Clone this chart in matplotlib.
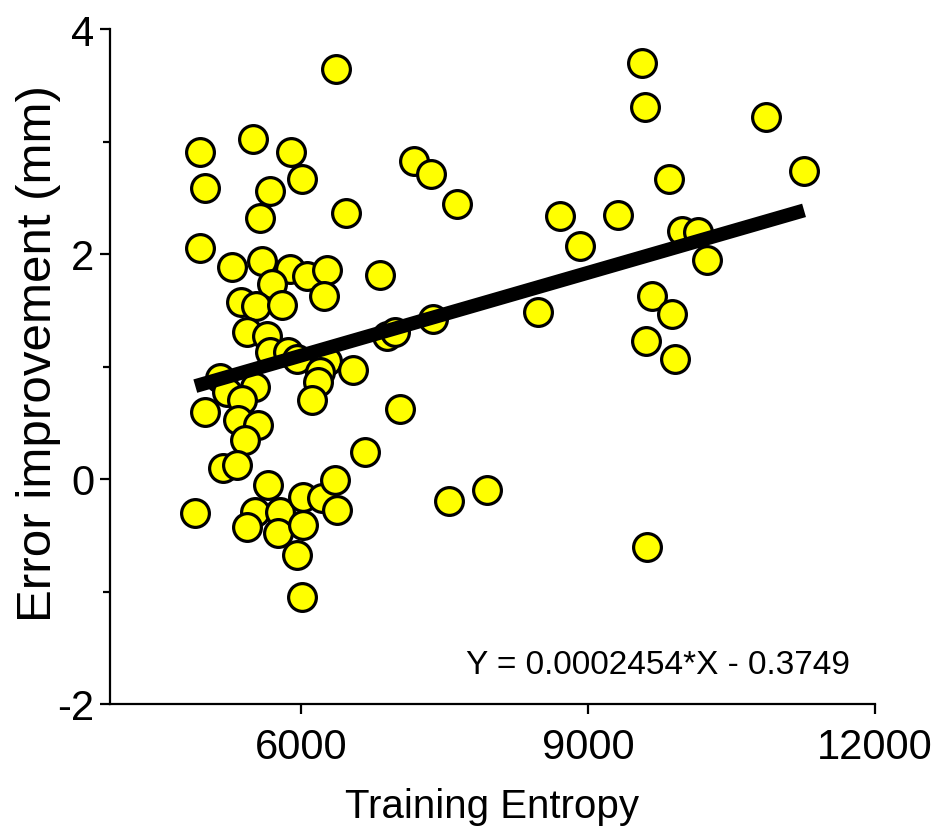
import numpy as np
import matplotlib
matplotlib.use("Agg")
import matplotlib.pyplot as plt

plt.rcParams['font.family'] = ['Liberation Sans', 'DejaVu Sans']
plt.rcParams['axes.unicode_minus'] = False

# training entropy vs error improvement
entropy = [4944, 5498, 5896, 4996, 5676, 6010, 5571, 6470, 6366, 7181,
           7359, 7631, 8707, 9314, 8916, 9564, 9596, 10861, 11258, 9847,
           9983, 10150, 10244, 4944, 5279, 5592, 5885, 6063, 6272, 6826,
           5697, 5373, 5530, 5801, 6240, 5436, 5645, 5676, 5864, 5958,
           6272, 6199, 6178, 6115, 6544, 6899, 6983, 7380, 8477, 9669,
           9606, 9878, 9909, 5153, 5226, 5519, 5383, 4996, 5341, 5550,
           5415, 5185, 5331, 5655, 6669, 7035, 4892, 5519, 5436, 5780,
           5760, 6021, 6220, 6356, 6376, 6021, 5958, 6010, 7547, 7944,
           9617]
improvement = [2.906, 3.021, 2.906, 2.585, 2.558, 2.665, 2.318, 2.362, 3.645, 2.823,
               2.710, 2.443, 2.336, 2.345, 2.069, 3.698, 3.306, 3.217, 2.736, 2.665,
               2.202, 2.193, 1.944, 2.052, 1.883, 1.936, 1.865, 1.802, 1.855, 1.810,
               1.730, 1.570, 1.534, 1.543, 1.623, 1.303, 1.268, 1.125, 1.125, 1.063,
               1.045, 0.947, 0.866, 0.706, 0.973, 1.268, 1.303, 1.419, 1.482, 1.624,
               1.223, 1.463, 1.071, 0.902, 0.777, 0.822, 0.706, 0.600, 0.528, 0.484,
               0.350, 0.101, 0.127, -0.051, 0.243, 0.626, -0.300, -0.292, -0.425, -0.292,
               -0.479, -0.158, -0.167, -0.006, -0.273, -0.408, -0.675, -1.049, -0.193, -0.095,
               -0.603]

slope = 0.0002454
intercept = -0.3749

x_ticks = [6000, 9000, 12000]
y_ticks = [-2, 0, 2, 4]

fig = plt.figure(figsize=(9.45, 8.29), dpi=100)
ax = fig.add_axes([110/945, 1 - 705/829, (875-110)/945, (705-30)/829])

ax.plot(entropy, improvement, 'o', ms=20, mfc='#ffff00', mec='black',
        mew=2.3, zorder=2)

xs = np.array([min(entropy), max(entropy)])
ax.plot(xs, slope*xs + intercept, color='black', lw=10, solid_capstyle='butt',
        zorder=3)

ax.set_xlim(4000, 12000)
ax.set_ylim(-2, 4)
ax.set_xticks(x_ticks)
ax.set_yticks(y_ticks)
ax.set_yticks([-1, 1, 3], minor=True)

for s in ['top', 'right']:
    ax.spines[s].set_visible(False)
for s in ['left', 'bottom']:
    ax.spines[s].set_linewidth(1.6)

ax.tick_params(which='major', direction='out', length=7.5, width=1.6,
               labelsize=30)
ax.tick_params(axis='x', which='major', pad=9)
ax.tick_params(axis='y', which='major', pad=4)
ax.tick_params(which='minor', direction='out', length=5, width=1.6)

ax.set_xlabel('Training Entropy', fontsize=29)
ax.xaxis.set_label_coords(0.5, -0.123)
ax.set_ylabel('Error improvement (mm)', fontsize=35.5)
ax.yaxis.set_label_coords(-0.094, 0.52)
ax.yaxis.label.set_verticalalignment('center')

ax.text(0.967, 0.058, 'Y = 0.0002454*X - 0.3749', transform=ax.transAxes,
        ha='right', va='center', fontsize=24)

fig.savefig('out.png', dpi=100)
